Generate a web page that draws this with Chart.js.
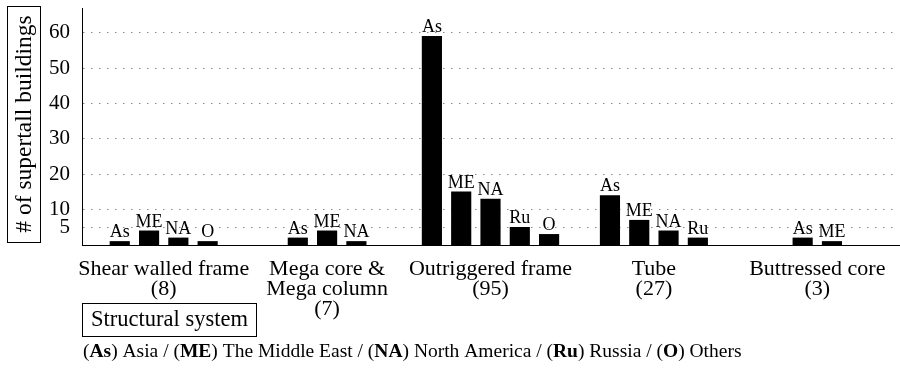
<!DOCTYPE html>
<html>
<head>
<meta charset="utf-8">
<script src="https://cdn.jsdelivr.net/npm/chart.js@4.4.1/dist/chart.umd.min.js"></script>
<style>
  html, body { margin: 0; padding: 0; background: #fff; }
</style>
</head>
<body>
<canvas id="grafSistemas" width="900" height="370"></canvas>
<script>
// datos
const sistemas = [
    ['Shear walled frame', '(8)'],
    ['Mega core &', 'Mega column', '(7)'],
    ['Outriggered frame', '(95)'],
    ['Tube', '(27)'],
    ['Buttressed core', '(3)']
]
const regiones = ['As', 'ME', 'NA', 'Ru', 'O']
const asia = [1, 2, 59, 14, 2]
const medioOriente = [4, 4, 15, 7, 1]
const norteAmerica = [2, 1, 13, 4, null]
const rusia = [null, null, 5, 2, null]
const otros = [1, null, 3, null, null]
const yTicks = [5, 10, 20, 30, 40, 50, 60]
const leyenda = [['As', 'Asia'], ['ME', 'The Middle East'], ['NA', 'North America'], ['Ru', 'Russia'], ['O', 'Others']]
const tituloY = '# of supertall buildings'
const tituloX = 'Structural system'

const fuente = '"Liberation Serif", "DejaVu Serif", serif'

// etiqueta de region encima de cada barra
const etiquetasBarras = {
    id: 'etiquetasBarras',
    afterDatasetsDraw(chart) {
        let ctx = chart.ctx
        ctx.save()
        ctx.font = `18px ${fuente}`
        ctx.fillStyle = '#000'
        ctx.textAlign = 'center'
        ctx.textBaseline = 'alphabetic'
        chart.data.datasets.forEach((ds, i) => {
            chart.getDatasetMeta(i).data.forEach((bar, j) => {
                if (ds.data[j] == null) return
                ctx.fillText(ds.label, bar.x, bar.y - 4)
            })
        })
        ctx.restore()
    }
}

// cajas de titulos y leyenda inferior
const extras = {
    id: 'extras',
    afterDraw(chart) {
        let ctx = chart.ctx
        ctx.save()
        ctx.strokeStyle = '#000'
        ctx.lineWidth = 1
        ctx.fillStyle = '#000'

        ctx.strokeRect(7.5, 6.5, 33, 236)
        ctx.save()
        ctx.translate(25, 124)
        ctx.rotate(-Math.PI / 2)
        ctx.font = `23.5px ${fuente}`
        ctx.textAlign = 'center'
        ctx.textBaseline = 'middle'
        ctx.fillText(tituloY, 0, 0)
        ctx.restore()

        ctx.strokeRect(82.5, 303.5, 174, 33)
        ctx.font = `22.5px ${fuente}`
        ctx.textAlign = 'center'
        ctx.textBaseline = 'middle'
        ctx.fillText(tituloX, 169.5, 320)

        ctx.textAlign = 'left'
        let x = 83
        const y = 352
        leyenda.forEach((item, i) => {
            let partes = [['(', false], [item[0], true], [') ' + item[1], false]]
            if (i < leyenda.length - 1) partes.push([' / ', false])
            partes.forEach(p => {
                ctx.font = `${p[1] ? 'bold ' : ''}19.5px ${fuente}`
                ctx.fillText(p[0], x, y)
                x += ctx.measureText(p[0]).width
            })
        })
        ctx.restore()
    }
}

const series = [asia, medioOriente, norteAmerica, rusia, otros]

let grafSistemas = new Chart(document.getElementById('grafSistemas'), {
    type: 'bar',
    data: {
        labels: sistemas,
        datasets: series.map((d, i) => ({
            label: regiones[i],
            data: d,
            backgroundColor: '#000',
            borderWidth: 0,
            barThickness: 29.3,
            maxBarThickness: 19.5,
            skipNull: true
        }))
    },
    options: {
        responsive: false,
        animation: false,
        devicePixelRatio: 1,
        layout: { padding: { top: 8, right: 1, bottom: 0, left: 0 } },
        plugins: {
            legend: { display: false },
            tooltip: { enabled: false }
        },
        scales: {
            x: {
                grid: { display: false },
                border: { display: true, color: '#000', width: 1 },
                ticks: {
                    color: '#000',
                    font: { family: fuente, size: 22, lineHeight: 0.92 },
                    padding: 6,
                    maxRotation: 0,
                    autoSkip: false
                },
                afterFit(scale) {
                    scale.height = 125
                    scale.paddingLeft = 0
                    scale.paddingRight = 0
                }
            },
            y: {
                min: 0,
                max: 67,
                grid: { color: '#8a8a8a', lineWidth: 1, drawTicks: false },
                border: { display: true, color: '#000', width: 1, dash: [1.5, 6.5] },
                ticks: {
                    color: '#000',
                    font: { family: fuente, size: 21 },
                    padding: 12
                },
                afterBuildTicks(scale) {
                    scale.ticks = yTicks.map(v => ({ value: v }))
                },
                afterFit(scale) {
                    scale.width = 82
                    scale.paddingTop = 0
                    scale.paddingBottom = 0
                }
            }
        }
    },
    plugins: [etiquetasBarras, extras]
})
</script>
</body>
</html>
